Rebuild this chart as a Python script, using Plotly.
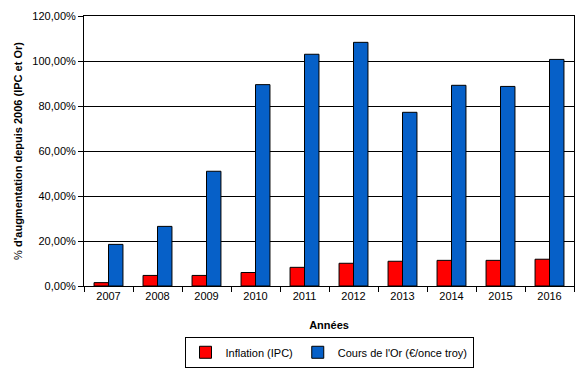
import plotly.graph_objects as go

years = ["2007", "2008", "2009", "2010", "2011", "2012", "2013", "2014", "2015", "2016"]
inflation = [1.5, 4.7, 4.7, 6.0, 8.3, 10.1, 11.0, 11.4, 11.4, 11.9]
gold = [18.5, 26.5, 51.0, 89.5, 103.0, 108.3, 77.2, 89.2, 88.7, 100.7]
y_ticks = [0, 0.2, 0.4, 0.6, 0.8, 1.0, 1.2]

fig = go.Figure()
fig.add_trace(go.Bar(x=years, y=[v / 100 for v in inflation], name="Inflation (IPC)",
                     marker=dict(color="#FF0000", line=dict(color="black", width=1))))
fig.add_trace(go.Bar(x=years, y=[v / 100 for v in gold], name="Cours de l'Or (€/once troy)",
                     marker=dict(color="#0660C8", line=dict(color="black", width=1))))

fig.update_layout(
    width=579, height=370,
    margin=dict(l=84, r=5, t=16, b=84, autoexpand=False),
    paper_bgcolor="white", plot_bgcolor="white",
    font=dict(family="Liberation Sans, Arial", size=11, color="black"),
    separators=", ",
    barmode="group", bargap=0.41, bargroupgap=0,
    showlegend=True,
    legend=dict(orientation="h", x=0.5, xanchor="center",
                yref="container", y=0.006, yanchor="bottom",
                bordercolor="black", borderwidth=1, font=dict(size=11),
                itemwidth=30, tracegroupgap=0),
    xaxis=dict(
        automargin=False,
        showline=True, linecolor="black", linewidth=1, mirror=True,
        ticks="outside", tickson="boundaries", ticklen=5, tickcolor="black",
        title=dict(text="<b>Années</b>", font=dict(size=11), standoff=20),
    ),
    yaxis=dict(
        automargin=False,
        range=[0, 1.2], tickvals=y_ticks, tickformat=".2%",
        showline=True, linecolor="black", linewidth=1, mirror=True,
        showgrid=True, gridcolor="black", gridwidth=1,
        ticks="outside", ticklen=5, tickcolor="black",
        title=dict(text="% <b>d'augmentation depuis 2006 (IPC et Or)</b>", font=dict(size=11), standoff=7),
        zeroline=False,
    ),
)

fig.write_html("out.html", config={"displayModeBar": False},
               post_script="document.body.style.margin='0';document.body.style.overflow='hidden';")
